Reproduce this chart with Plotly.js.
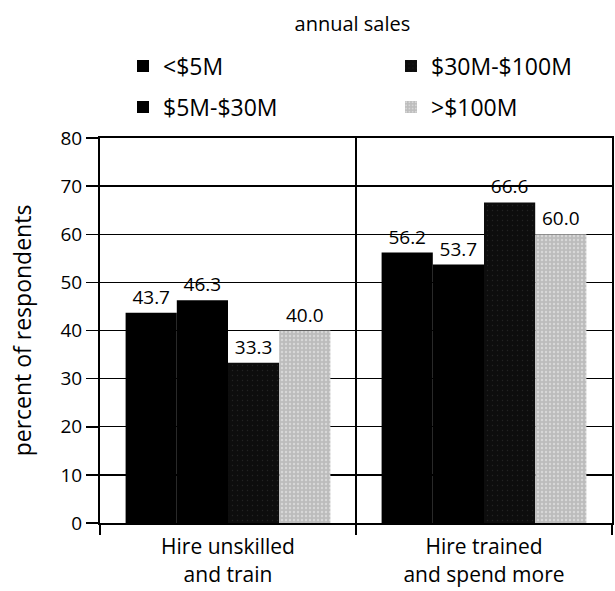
<!DOCTYPE html>
<html>
<head>
<meta charset="utf-8">
<script src="https://cdn.plot.ly/plotly-3.0.1.min.js"></script>
<style>html,body{margin:0;padding:0;background:#fff;}#chart{width:615px;height:591px;}</style>
</head>
<body>
<div id="chart"></div>
<script>
const categories = ["Hire unskilled<br>and train", "Hire trained<br>and spend more"];
const seriesNames = ["<$5M", "$5M-$30M", "$30M-$100M", ">$100M"];
const under5M = [43.7, 56.2];
const from5to30M = [46.3, 53.7];
const from30to100M = [33.3, 66.6];
const over100M = [40.0, 60.0];
const yTicks = [0, 10, 20, 30, 40, 50, 60, 70, 80];

const FONT = "Open Sans, DejaVu Sans, sans-serif";

const styles = [
  {marker: {color: "#000000"}, legend: "legend"},
  {marker: {color: "#000000"}, legend: "legend2"},
  {marker: {color: "#0d0d0d", pattern: {shape: ".", bgcolor: "#0d0d0d", fgcolor: "#3a3a3a", size: 5, solidity: 0.06, fillmode: "overlay"}}, legend: "legend3"},
  {marker: {color: "#c4c4c4", pattern: {shape: ".", bgcolor: "#bcbcbc", fgcolor: "#f2f2f2", size: 4, solidity: 0.3, fillmode: "overlay"}}, legend: "legend4"}
];
const values = [under5M, from5to30M, from30to100M, over100M];

const data = values.map((v, i) => ({
  type: "bar",
  x: categories,
  y: v,
  name: seriesNames[i],
  marker: styles[i].marker,
  legend: styles[i].legend,
  texttemplate: "%{y:.1f}",
  textposition: "outside",
  cliponaxis: false,
  textfont: {family: FONT, size: 19, color: "#000"},
  hoverinfo: "skip"
}));

const PLOT_TOP = 138, PLOT_H = 385, PLOT_L = 100, PLOT_W = 512;
function legendAt(textLeftPx, centerYPx) {
  return {
    orientation: "v",
    xanchor: "left",
    yanchor: "middle",
    x: (textLeftPx - 40 - PLOT_L) / PLOT_W,
    y: 1 + (PLOT_TOP - centerYPx) / PLOT_H,
    font: {family: FONT, size: 23, color: "#000"},
    bgcolor: "rgba(0,0,0,0)",
    borderwidth: 0
  };
}

const layout = {
  width: 615,
  height: 591,
  margin: {l: PLOT_L, r: 615 - PLOT_L - PLOT_W, t: PLOT_TOP, b: 591 - PLOT_TOP - PLOT_H},
  paper_bgcolor: "#fff",
  plot_bgcolor: "#fff",
  font: {family: FONT, color: "#000"},
  barmode: "group",
  bargap: 0.2,
  bargroupgap: 0,
  title: {text: "annual sales", font: {family: FONT, size: 20, color: "#000"}, x: 0.573, xanchor: "center", y: 0.96, yanchor: "middle", yref: "container"},
  showlegend: true,
  legend: legendAt(163, 66),
  legend2: legendAt(163, 107),
  legend3: legendAt(431, 66),
  legend4: legendAt(431, 107),
  xaxis: {
    type: "category",
    tickson: "boundaries",
    ticks: "outside",
    ticklen: 10,
    tickwidth: 1.5,
    tickcolor: "#000",
    ticklabelstandoff: 4,
    showgrid: true,
    gridcolor: "#000",
    gridwidth: 1.5,
    showline: true,
    linecolor: "#000",
    linewidth: 2,
    mirror: true,
    tickfont: {family: FONT, size: 21, color: "#000"},
    fixedrange: true
  },
  yaxis: {
    range: [0, 80],
    tickvals: yTicks,
    ticktext: yTicks.map(String),
    ticks: "outside",
    ticklen: 12,
    tickwidth: 1.5,
    tickcolor: "#000",
    showgrid: true,
    gridcolor: "#000",
    gridwidth: 1.3,
    zeroline: false,
    showline: true,
    linecolor: "#000",
    linewidth: 2,
    mirror: true,
    tickfont: {family: FONT, size: 19, color: "#000"},
    title: {text: "percent of respondents", font: {family: FONT, size: 23, color: "#000"}, standoff: 22},
    fixedrange: true
  }
};

Plotly.newPlot("chart", data, layout, {displayModeBar: false, staticPlot: true});
</script>
</body>
</html>
